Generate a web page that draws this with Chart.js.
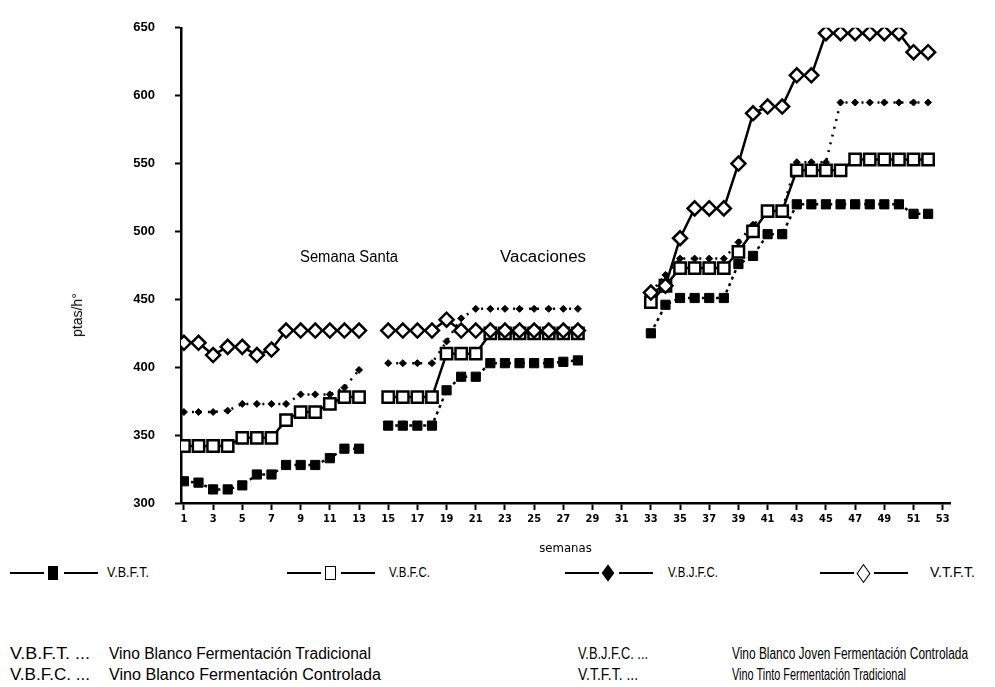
<!DOCTYPE html>
<html lang="es">
<head>
<meta charset="UTF-8">
<title>ptas/h por semanas</title>
<script src="https://cdn.jsdelivr.net/npm/chart.js"></script>
<style>
  body { margin: 0; background: #fff; width: 995px; height: 687px; position: relative; overflow: hidden; font-family: "Liberation Sans", sans-serif; color: #000; }
  #wrap { position: absolute; left: 0; top: 0; width: 995px; height: 560px; }
  .txt { position: absolute; white-space: nowrap; transform-origin: 0 50%; }
  .note { font-size: 16px; }
  .ln { position: absolute; height: 0; border-top: 2px solid #000; }
</style>
</head>
<body>
<div id="wrap"><canvas id="chart" width="995" height="560"></canvas></div>

<!-- texts over the chart (data-w = width to squeeze the text into) -->
<div class="txt" style="left:77px; top:315px; transform-origin:50% 50%; transform: translate(-50%,-50%) rotate(-90deg); font-size:14px;">ptas/h°</div>
<div class="txt fit" data-w="98" style="left:300px; top:248px; font-size:16px;">Semana Santa</div>
<div class="txt fit" data-w="86" style="left:500px; top:248px; font-size:16px;">Vacaciones</div>

<!-- legend -->
<div id="legend"></div>

<!-- notes -->
<div class="txt note fit" data-w="80" style="left:10px; top:645px;">V.B.F.T. ...</div>
<div class="txt note fit" data-w="262" style="left:109px; top:645px;">Vino Blanco Fermentación Tradicional</div>
<div class="txt note fit" data-w="80" style="left:10px; top:666px;">V.B.F.C. ...</div>
<div class="txt note fit" data-w="272" style="left:109px; top:666px;">Vino Blanco Fermentación Controlada</div>
<div class="txt note fit" data-w="70" style="left:578px; top:645px;">V.B.J.F.C. ...</div>
<div class="txt note fit" data-w="236" style="left:732px; top:645px;">Vino Blanco Joven Fermentación Controlada</div>
<div class="txt note fit" data-w="60" style="left:578px; top:666px;">V.T.F.T. ...</div>
<div class="txt note fit" data-w="174" style="left:732px; top:666px;">Vino Tinto Fermentación Tradicional</div>

<script>
// weeks 1..52 (gaps: 14 Semana Santa, 29-32 vacaciones)
const weeks = [1,2,3,4,5,6,7,8,9,10,11,12,13,14,15,16,17,18,19,20,21,22,23,24,25,26,
               27,28,29,30,31,32,33,34,35,36,37,38,39,40,41,42,43,44,45,46,47,48,49,50,51,52];
const xTickWeeks = [1,3,5,7,9,11,13,15,17,19,21,23,25,27,29,31,33,35,37,39,41,43,45,47,49,51,53];
const yTicks = [300,350,400,450,500,550,600,650];

// Vino Blanco Fermentación Tradicional
const vbft = [316,315,310,310,313,321,321,328,328,328,333,340,340, null,
              357,357,357,357,383,393,393,403,403,403,403,403,404,405, null,null,null,null,
              425,446,451,451,451,451,476,482,498,498,520,520,520,520,520,520,520,520,513,513];
// Vino Blanco Fermentación Controlada
const vbfc = [342,342,342,342,348,348,348,361,367,367,373,378,378, null,
              378,378,378,378,410,410,410,425,425,425,425,425,425,425, null,null,null,null,
              448,460,473,473,473,473,485,500,515,515,545,545,545,545,553,553,553,553,553,553];
// Vino Blanco Joven Fermentación Controlada
const vbjfc = [367,367,367,368,373,373,373,373,380,380,380,385,398, null,
               403,403,403,403,419,436,443,443,443,443,443,443,443,443, null,null,null,null,
               455,468,480,480,480,480,492,505,513,516,551,551,551,595,595,595,595,595,595,595];
// Vino Tinto Fermentación Tradicional
const vtft = [418,418,409,415,415,409,413,427,427,427,427,427,427, null,
              427,427,427,427,435,427,427,427,427,427,427,427,427,427, null,null,null,null,
              455,460,495,517,517,517,550,587,592,592,615,615,646,646,646,646,646,646,632,632];

const legendItems = [
  { label: 'V.B.F.T.',   x: 10,  tx: 107, w: 42, marker: 'fsq' },
  { label: 'V.B.F.C.',   x: 287, tx: 389, w: 41, marker: 'osq' },
  { label: 'V.B.J.F.C.', x: 565, tx: 668, w: 50, marker: 'fdi' },
  { label: 'V.T.F.T.',   x: 820, tx: 930, w: 45, marker: 'odi' }
];

function pts(arr) {
  return weeks.map((w, i) => ({ x: w, y: arr[i] }));
}

// legend markup
const lg = document.getElementById('legend');
legendItems.forEach(it => {
  const y = 573;
  let html = '<div class="ln" style="left:' + it.x + 'px; top:' + (y - 1) + 'px; width:34px;"></div>';
  const mx = it.x + 43;
  if (it.marker === 'fsq') html += '<div style="position:absolute; left:' + (mx - 5) + 'px; top:' + (y - 7) + 'px; width:10px; height:14px; background:#000;"></div>';
  if (it.marker === 'osq') html += '<div style="position:absolute; left:' + (mx - 5) + 'px; top:' + (y - 7) + 'px; width:9px; height:12px; border:1px solid #000;"></div>';
  if (it.marker === 'fdi') html += '<div style="position:absolute; left:' + (mx - 5) + 'px; top:' + (y - 5) + 'px; width:10px; height:10px; background:#000; transform:scale(0.9,1.25) rotate(45deg);"></div>';
  if (it.marker === 'odi') html += '<div style="position:absolute; left:' + (mx - 5) + 'px; top:' + (y - 5) + 'px; width:9px; height:9px; border:1px solid #000; transform:scale(0.9,1.25) rotate(45deg);"></div>';
  html += '<div class="ln" style="left:' + (it.x + 54) + 'px; top:' + (y - 1) + 'px; width:34px;"></div>';
  html += '<div class="txt fit" data-w="' + it.w + '" style="left:' + it.tx + 'px; top:' + (y - 10) + 'px; font-size:15px;">' + it.label + '</div>';
  lg.insertAdjacentHTML('beforeend', html);
});

// squeeze the condensed-looking texts to their widths
document.querySelectorAll('.fit').forEach(el => {
  const w = el.getBoundingClientRect().width;
  el.style.transform = 'scaleX(' + (Number(el.dataset.w) / w).toFixed(3) + ')';
});

const ctx = document.getElementById('chart').getContext('2d');
const chart = new Chart(ctx, {
  type: 'line',
  data: {
    datasets: [
      {
        label: 'V.T.F.T.', data: pts(vtft), order: 0,
        borderColor: '#000', borderWidth: 2.5,
        pointStyle: 'rectRot', pointRadius: 7, pointBorderWidth: 2.5,
        pointBackgroundColor: '#fff', pointBorderColor: '#000'
      },
      {
        label: 'V.B.F.C.', data: pts(vbfc), order: 1,
        borderColor: '#000', borderWidth: 2.5,
        pointStyle: 'rect', pointRadius: 8, pointBorderWidth: 2.5,
        pointBackgroundColor: '#fff', pointBorderColor: '#000'
      },
      {
        label: 'V.B.J.F.C.', data: pts(vbjfc), order: 2,
        borderColor: '#000', borderWidth: 2.5, borderDash: [2, 6],
        pointStyle: 'rectRot', pointRadius: 3.5, pointBorderWidth: 1,
        pointBackgroundColor: '#000', pointBorderColor: '#000'
      },
      {
        label: 'V.B.F.T.', data: pts(vbft), order: 3,
        borderColor: '#000', borderWidth: 2.5, borderDash: [3, 4],
        pointStyle: 'rect', pointRadius: 6.5, pointBorderWidth: 1,
        pointBackgroundColor: '#000', pointBorderColor: '#000'
      }
    ]
  },
  options: {
    responsive: false,
    animation: false,
    layout: { padding: { top: 26, right: 45, left: 0, bottom: 0 } },
    elements: { line: { tension: 0 } },
    plugins: { legend: { display: false }, tooltip: { enabled: false } },
    scales: {
      x: {
        type: 'linear', min: 0.8, max: 53.5,
        afterBuildTicks: s => { s.ticks = xTickWeeks.map(v => ({ value: v })); },
        afterFit: s => { s.height = 57; },
        ticks: {
          autoSkip: false, maxRotation: 0, padding: 3, color: '#000',
          font: { family: "'DejaVu Sans Condensed', 'Liberation Sans', sans-serif", size: 11, weight: 'bold' },
          callback: v => String(v)
        },
        grid: { drawOnChartArea: false, drawTicks: true, tickLength: 7, tickColor: '#000', tickWidth: 2 },
        border: { display: true, color: '#000', width: 2.5 },
        title: {
          display: true, text: 'semanas', color: '#000',
          font: { family: "'DejaVu Sans Condensed', 'Liberation Sans', sans-serif", size: 13 },
          padding: { top: 0, bottom: 4 }
        }
      },
      y: {
        min: 300, max: 650,
        afterBuildTicks: s => { s.ticks = yTicks.map(v => ({ value: v })); },
        afterFit: s => { s.width = 181; },
        ticks: {
          padding: 20, color: '#000',
          font: { family: "'Liberation Sans', sans-serif", size: 13, weight: 'bold' }
        },
        grid: { drawOnChartArea: false, drawTicks: true, tickLength: 6, tickColor: '#000', tickWidth: 2 },
        border: { display: true, color: '#000', width: 2.5 }
      }
    }
  }
});
</script>
</body>
</html>
